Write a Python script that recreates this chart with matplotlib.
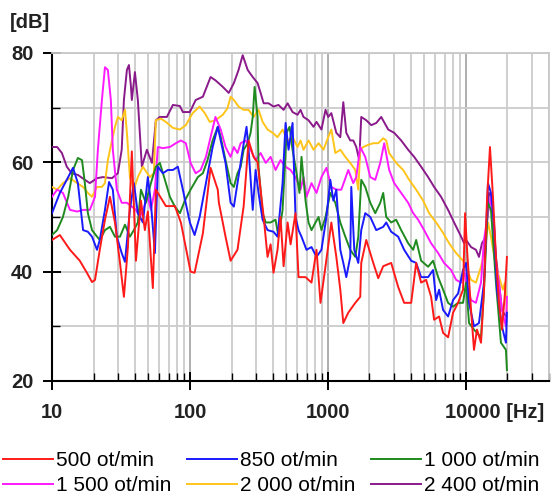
import matplotlib

matplotlib.use("Agg")

import matplotlib.pyplot as plt
import matplotlib.transforms as mtransforms
from matplotlib.ticker import FixedLocator, LogLocator, NullFormatter

plt.rcParams["font.family"] = ["Liberation Sans", "DejaVu Sans"]

# Noise spectra, frequency [Hz] / level [dB]
f_500 = [10, 11.4, 13.5, 15.9, 17.9, 19.5, 20.5, 22.2, 24.2, 26.3, 28.6, 31.1, 33.2, 35.5, 37.9,
         40.6, 44.1, 47.1, 49.5, 53.8, 56.6, 66.9, 77.7, 85.9, 101, 108, 124, 141, 159, 162, 181,
         197, 221, 245, 266, 289, 309, 325, 342, 365, 384, 403, 431, 453, 477, 510, 536, 582, 612,
         688, 760, 826, 883, 960, 1058, 1150, 1229, 1292, 1404, 1578, 1714, 1743, 1895, 2130,
         2314, 2515, 2873, 3228, 3567, 4010, 4357, 4735, 5146, 5593, 5880, 6390, 6830, 7425,
         8070, 8770, 9530, 9860, 10190, 10890, 11440, 12030, 12860, 13520, 14210, 14940, 15700,
         16500, 17350, 18240, 19170, 19820]
db_500 = [45.8, 46.7, 44.0, 42.0, 39.8, 38.1, 38.5, 44.0, 49.5, 53.7, 49.0, 41.6, 35.4, 44.5, 62.0,
          42.0, 53.0, 47.6, 51.0, 37.0, 55.0, 52.0, 52.0, 49.0, 40.0, 39.8, 47.0, 59.0, 55.0, 52.6,
          46.4, 42.0, 44.0, 52.0, 64.0, 61.0, 60.0, 55.0, 50.0, 42.7, 45.0, 39.8, 44.0, 50.0, 41.0,
          49.0, 45.0, 50.7, 39.0, 39.0, 38.0, 44.0, 34.3, 41.0, 49.0, 42.7, 36.7, 30.6, 32.5, 34.3,
          35.4, 41.6, 45.8, 41.6, 38.8, 41.0, 41.6, 37.2, 34.3, 34.3, 41.6, 38.0, 38.5, 35.4, 31.2,
          31.8, 28.8, 28.0, 32.5, 34.3, 36.7, 50.7, 44.0, 33.0, 25.7, 29.4, 27.0, 36.7, 53.0, 62.8,
          53.7, 42.7, 34.3, 29.4, 36.0, 42.7]

f_850 = [10, 11.4, 13.1, 14.2, 15.4, 16.8, 18.2, 19.5, 21.2, 22.2, 24.2, 25.9, 27.6, 29.5, 32.0,
         33.8, 36.7, 39.2, 41.9, 45.6, 49.5, 52.1, 55.7, 58.5, 63.6, 69.1, 75.2, 81.7, 88.8, 99.8,
         108, 117.5, 130.5, 146, 159, 167, 181, 197, 208, 221, 241, 257, 266, 285, 299, 314, 336,
         365, 403, 431, 469, 493, 518, 554, 582, 612, 643, 699, 760, 826, 897, 975, 1040, 1094,
         1150, 1229, 1292, 1358, 1451, 1476, 1552, 1659, 1743, 1863, 2026, 2239, 2515, 2644, 2873,
         3228, 3567, 4010, 4357, 4735, 5320, 5780, 6080, 6390, 6830, 7425, 8070, 8770, 9530,
         10020, 10530, 11440, 12430, 13520, 14450, 15190, 15970, 16790, 18240, 19490, 19820]
db_850 = [50.7, 54.4, 57.3, 59.0, 56.2, 47.6, 47.3, 46.4, 44.0, 45.8, 51.3, 56.4, 55.0, 46.4, 43.4,
          41.8, 51.3, 56.2, 50.7, 49.0, 57.3, 52.6, 43.4, 59.2, 58.0, 58.6, 58.6, 59.2, 55.0, 49.0,
          46.7, 50.0, 56.2, 62.8, 66.5, 64.0, 59.9, 52.6, 51.9, 56.2, 62.3, 66.5, 62.3, 51.3, 58.6,
          54.4, 49.5, 47.6, 47.3, 46.4, 56.2, 67.2, 62.3, 67.2, 50.0, 47.6, 46.4, 44.0, 44.5, 42.7,
          44.0, 50.0, 56.8, 53.0, 55.0, 44.0, 41.6, 39.0, 42.7, 55.5, 44.0, 41.6, 47.6, 50.7, 50.0,
          47.6, 48.2, 49.0, 47.3, 46.4, 44.0, 42.0, 41.6, 39.0, 39.0, 40.3, 34.8, 36.7, 33.0, 31.8,
          34.8, 36.0, 40.3, 41.6, 34.3, 30.0, 30.6, 38.0, 56.2, 54.4, 49.0, 36.7, 30.0, 27.0, 32.5]

f_1000 = [10, 10.9, 12.0, 13.1, 14.2, 15.4, 16.5, 17.3, 18.2, 19.5, 21.2, 22.2, 24.2, 26.3, 28.6,
          31.1, 33.8, 36.7, 39.2, 41.9, 44.1, 47.9, 52.1, 56.6, 60.5, 65.8, 71.5, 77.7, 84.5, 91.8,
          101, 114, 124, 134, 146, 159, 167, 181, 197, 208, 221, 233, 245, 262, 275, 285, 294, 309,
          314, 336, 354, 384, 417, 438, 469, 501, 527, 554, 592, 622, 643, 688, 723, 760, 813, 855,
          897, 960, 1040, 1131, 1229, 1336, 1451, 1578, 1659, 1743, 1863, 2026, 2202, 2393, 2515,
          2644, 2873, 3122, 3394, 3814, 4145, 4357, 4735, 5320, 5780, 6290, 6830, 7425, 8070, 8770,
          9530, 10020, 10530, 11440, 12860, 13520, 14450, 15190, 16500, 17940, 19490, 19820]
db_1000 = [46.7, 47.6, 50.0, 53.7, 58.6, 60.8, 60.4, 56.2, 50.7, 47.6, 46.4, 45.8, 47.6, 48.2, 46.4,
           46.4, 48.6, 46.4, 47.6, 49.0, 55.0, 52.6, 56.2, 59.2, 59.9, 56.8, 53.7, 51.9, 50.7, 53.0,
           55.0, 57.3, 58.0, 60.4, 64.0, 66.5, 64.6, 60.4, 56.2, 55.5, 58.0, 59.2, 62.3, 63.5, 65.4,
           68.3, 73.8, 68.3, 59.2, 50.7, 49.0, 49.0, 49.5, 46.4, 51.3, 65.4, 66.5, 62.3, 58.0, 54.4,
           61.0, 53.0, 49.0, 47.6, 49.0, 50.0, 47.6, 50.0, 54.4, 52.6, 49.0, 46.4, 44.0, 42.7, 46.4,
           56.8, 55.5, 52.6, 50.7, 52.6, 54.4, 50.0, 49.0, 49.5, 47.6, 45.2, 44.0, 45.8, 42.0, 40.9,
           42.0, 39.0, 36.7, 34.3, 33.6, 34.3, 34.3, 38.0, 30.6, 29.4, 28.0, 36.7, 52.6, 51.3, 38.0,
           27.0, 25.7, 22.0]

f_1500 = [10, 10.9, 12.0, 13.5, 15.2, 16.8, 18.8, 20.5, 21.5, 23.0, 24.2, 25.4, 26.7, 27.6, 29.5,
          32.0, 34.9, 37.9, 40.6, 43.4, 45.6, 49.5, 52.1, 55.7, 58.5, 63.6, 71.5, 79.0, 85.9, 93.3,
          101, 110, 119.5, 130.5, 141, 153, 167, 181, 197, 208, 221, 233, 253, 275, 299, 325, 354,
          384, 417, 453, 493, 536, 582, 633, 665, 699, 760, 826, 897, 975, 1058, 1150, 1250, 1404,
          1526, 1604, 1714, 1863, 2026, 2202, 2393, 2557, 2779, 3020, 3394, 3814, 4145, 4505, 4978,
          5593, 6290, 6940, 7810, 8490, 9230, 9700, 10020, 10890, 11820, 12860, 13520, 14450,
          15190, 16500, 17350, 18240, 19490, 19820]
db_1500 = [53.7, 55.0, 54.4, 51.3, 51.0, 51.3, 51.3, 53.7, 62.3, 71.4, 77.4, 76.9, 71.4, 62.3, 55.0,
           52.6, 52.6, 51.9, 51.3, 50.0, 51.3, 53.7, 51.3, 55.0, 62.8, 62.6, 62.8, 63.5, 64.0, 63.5,
           59.9, 58.0, 58.6, 61.0, 64.6, 68.3, 66.0, 62.8, 61.0, 62.8, 61.7, 63.5, 64.0, 62.3, 60.4,
           61.7, 59.9, 61.0, 58.6, 60.4, 59.2, 58.6, 57.3, 55.0, 57.3, 53.7, 56.2, 54.4, 57.3, 59.0,
           55.5, 55.0, 55.0, 58.6, 56.2, 57.3, 62.8, 61.0, 57.3, 56.8, 59.9, 63.5, 58.6, 56.2, 54.4,
           52.6, 50.7, 49.5, 47.6, 45.2, 43.4, 41.6, 40.3, 38.5, 38.0, 40.3, 38.0, 34.8, 34.3, 38.0,
           45.8, 50.7, 53.7, 41.6, 38.0, 33.0, 30.0, 35.4]

f_2000 = [10, 10.9, 12.0, 13.5, 15.2, 16.8, 18.2, 19.5, 21.2, 23.0, 24.2, 25.4, 27.2, 28.6, 30.0,
          32.0, 33.8, 34.9, 36.7, 39.2, 41.9, 45.6, 51.2, 54.7, 56.6, 61.5, 66.9, 75.2, 84.5, 93.3,
          104.5, 117.5, 128, 139, 153, 173, 187, 197, 208, 225, 245, 266, 289, 314, 336, 365, 397,
          431, 469, 510, 554, 602, 633, 665, 723, 786, 855, 928, 1004, 1058, 1131, 1229, 1336, 1451,
          1578, 1659, 1714, 1802, 1959, 2130, 2314, 2515, 2644, 2779, 3122, 3509, 3878, 4357, 4895,
          5410, 6080, 6830, 7550, 8490, 9530, 10020, 10890, 11820, 12860, 13740, 14450, 15190,
          16500, 17640, 18550, 19170, 19820]
db_2000 = [55.5, 55.0, 56.2, 57.1, 56.2, 55.5, 54.4, 53.7, 55.5, 55.5, 56.2, 60.4, 64.0, 66.5, 68.3,
           67.7, 69.6, 65.4, 57.3, 55.0, 57.3, 59.2, 57.3, 58.0, 67.7, 68.0, 67.4, 66.3, 66.0, 66.8,
           69.0, 70.2, 69.0, 67.4, 67.7, 68.7, 69.9, 72.0, 71.4, 70.2, 69.6, 69.6, 68.3, 69.6, 67.4,
           66.0, 65.4, 64.6, 66.0, 64.0, 64.6, 62.8, 64.0, 62.3, 64.0, 62.3, 63.5, 62.3, 64.6, 66.0,
           61.7, 62.3, 61.0, 59.9, 58.6, 55.0, 62.3, 62.8, 63.2, 63.5, 63.5, 64.4, 64.0, 61.7, 59.9,
           58.6, 56.8, 55.0, 53.0, 50.7, 49.0, 47.1, 45.2, 43.4, 42.0, 40.9, 38.5, 38.0, 40.9, 44.0,
           49.0, 46.4, 40.9, 38.5, 36.7, 38.0, 33.0]

f_2400 = [10, 10.9, 11.8, 12.8, 13.9, 15.4, 17.3, 18.8, 21.2, 23.4, 27.2, 30.0, 32.0, 33.2, 34.9,
          36.1, 37.3, 37.9, 39.9, 41.9, 44.8, 48.7, 53.0, 56.6, 60.5, 68.0, 75.2, 84.5, 88.8, 99.8,
          110, 124, 141, 153, 173, 191, 208, 225, 241, 262, 285, 309, 325, 342, 371, 403, 438, 477,
          510, 554, 602, 633, 665, 723, 786, 826, 897, 960, 1004, 1058, 1150, 1229, 1292, 1358,
          1451, 1526, 1604, 1686, 1743, 1895, 2060, 2239, 2433, 2733, 3020, 3394, 3814, 4215, 4735,
          5320, 5880, 6600, 7425, 8210, 9230, 9700, 10020, 10890, 11820, 12430, 13070, 13970,
          14690, 15450, 16500, 17350, 18240, 19490]
db_2400 = [62.8, 62.8, 61.7, 59.2, 58.0, 57.7, 56.8, 56.2, 57.1, 57.3, 57.1, 58.0, 62.3, 71.4, 76.9,
           77.8, 74.0, 71.4, 76.5, 71.4, 59.2, 62.3, 59.9, 67.7, 68.3, 68.3, 70.5, 70.3, 69.2, 69.2,
           71.4, 72.0, 75.6, 75.0, 73.8, 72.7, 74.5, 76.9, 79.6, 76.9, 75.6, 74.5, 72.7, 70.8, 70.8,
           70.2, 70.5, 69.6, 70.8, 69.2, 68.7, 69.6, 68.3, 67.7, 66.5, 67.4, 66.0, 69.6, 68.3, 69.0,
           65.4, 64.6, 71.0, 65.4, 64.0, 64.0, 62.8, 60.4, 68.3, 67.7, 66.8, 67.2, 68.3, 66.0, 65.4,
           64.0, 62.3, 61.0, 59.2, 57.3, 55.5, 53.7, 51.3, 49.0, 46.4, 45.2, 45.8, 44.5, 44.0, 42.7,
           45.2, 46.4, 54.4, 53.7, 42.7, 38.0, 33.0, 31.8]

labels = ["500 ot/min", "850 ot/min", "1 000 ot/min",
          "1 500 ot/min", "2 000 ot/min", "2 400 ot/min"]
colors = ["#ff1a1a", "#1a1aff", "#1f8a1f", "#ff1aff", "#ffc41a", "#8a1a8a"]
freqs = [f_500, f_850, f_1000, f_1500, f_2000, f_2400]
levels = [db_500, db_850, db_1000, db_1500, db_2000, db_2400]

y_ticks = [20, 40, 60, 80]
x_ticks = [10, 100, 1000, 10000]
x_ticklabels = ["10", "100", "1000", ""]

fig = plt.figure(figsize=(5.6, 4.97), dpi=100)
ax = fig.add_axes([52 / 560, 1 - 381 / 497, 497 / 560, 328 / 497])

handles = []
# draw the fastest speed first so the 500 ot/min curve ends on top
for i in range(len(labels) - 1, -1, -1):
    ln, = ax.plot(freqs[i], levels[i], color=colors[i], lw=1.4, label=labels[i], zorder=3 + (6 - i))
    handles.append(ln)
handles = handles[::-1]

ax.set_xscale("log")
ax.set_xlim(10, 40000)
ax.set_ylim(20, 80)

ax.xaxis.set_major_locator(FixedLocator(x_ticks))
ax.xaxis.set_minor_locator(LogLocator(base=10, subs=[2, 3, 4, 5, 6, 7, 8, 9]))
ax.xaxis.set_minor_formatter(NullFormatter())
ax.set_xticklabels(x_ticklabels)
ax.set_yticks(y_ticks)
ax.set_yticks([30, 50, 70], minor=True)

ax.tick_params(which="major", direction="inout", length=13, width=1.4, labelsize=14.5, pad=7)
ax.tick_params(which="minor", direction="in", length=6, width=1.0)
ax.tick_params(axis="x", which="major", pad=9)
for lab in ax.get_xticklabels() + ax.get_yticklabels():
    lab.set_fontweight("bold")
    lab.set_color("#222222")

ax.xaxis.grid(True, which="major", color="#a8a8a8", lw=1.3, zorder=0)
ax.xaxis.grid(True, which="minor", color="#cccccc", lw=1.3, zorder=0)
ax.yaxis.grid(True, which="both", color="#cccccc", lw=1.3, zorder=0)
ax.set_axisbelow(True)

for side in ["left", "bottom"]:
    ax.spines[side].set_color("black")
    ax.spines[side].set_linewidth(1.5)
for side in ["top", "right"]:
    ax.spines[side].set_color("#c8c8c8")
    ax.spines[side].set_linewidth(1.3)

trans = mtransforms.blended_transform_factory(ax.transData, ax.transAxes)
ax.text(7070, -0.066, "10000 [Hz]", transform=trans, ha="left", va="top",
        fontsize=14.5, fontweight="bold", color="#222222")
fig.text(10 / 560, 1 - 22 / 497, "[dB]", ha="left", va="center",
         fontsize=14.5, fontweight="bold", color="#222222")

order = [0, 3, 1, 4, 2, 5]
fig.legend([handles[k] for k in order], [labels[k] for k in order], ncol=3,
           loc="upper left", bbox_to_anchor=(3 / 560, 1 - 451 / 497), frameon=False,
           fontsize=15, handlelength=2.4, handletextpad=0.15, columnspacing=0.75,
           labelspacing=0.3, borderpad=0, borderaxespad=0)

fig.savefig("out.png", dpi=100, facecolor="white")
